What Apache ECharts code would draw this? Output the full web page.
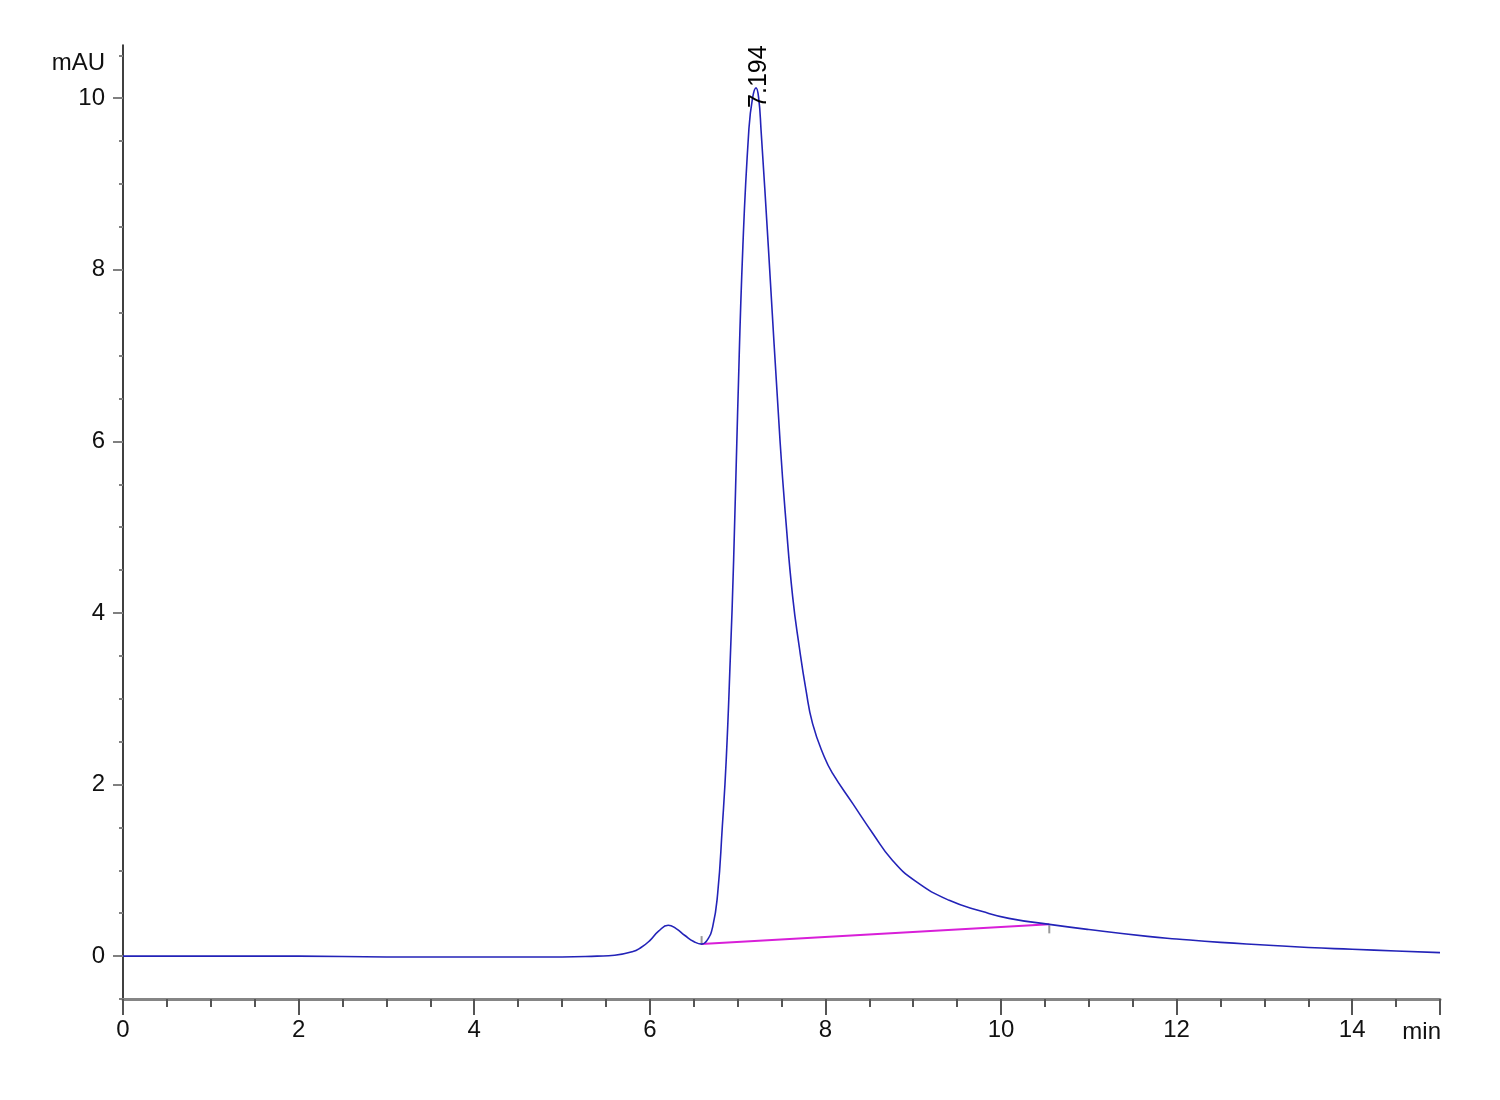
<!DOCTYPE html>
<html>
<head>
<meta charset="utf-8">
<script src="https://cdn.jsdelivr.net/npm/echarts@6/dist/echarts.min.js"></script>
<style>
html,body{margin:0;padding:0;background:#fff;}
#chart{width:1500px;height:1100px;}
</style>
</head>
<body>
<div id="chart"></div>
<script>
// Retention time (min) and absorbance (mAU)
var timeMin = [0, 1, 2, 3, 4, 5, 5.4, 5.6, 5.8, 5.9, 6.0, 6.1, 6.21, 6.3, 6.4, 6.5, 6.59, 6.65, 6.716, 6.773, 6.826, 6.87, 6.916, 6.955, 7.0, 7.06, 7.128, 7.17, 7.21, 7.24, 7.267, 7.35, 7.483, 7.552, 7.627, 7.703, 7.779, 7.854, 7.988, 8.082, 8.31, 8.54, 8.76, 9.03, 9.41, 9.79, 10.09, 10.55, 11.0, 11.67, 12.0, 12.5, 13.0, 13.5, 14.0, 14.5, 15.0];
var signalMAU = [0, 0, 0, -0.01, -0.01, -0.01, 0, 0.01, 0.05, 0.1, 0.18, 0.29, 0.36, 0.32, 0.24, 0.17, 0.14, 0.18, 0.34, 0.73, 1.51, 2.28, 3.45, 4.62, 6.33, 8.27, 9.63, 10.0, 10.12, 10.0, 9.63, 8.27, 6.01, 5.05, 4.19, 3.6, 3.1, 2.71, 2.32, 2.13, 1.78, 1.43, 1.12, 0.87, 0.65, 0.52, 0.44, 0.37, 0.31, 0.23, 0.2, 0.16, 0.13, 0.1, 0.08, 0.06, 0.04];
// Integration baseline (start and end points)
var baselineTime = [6.59, 10.55];
var baselineMAU = [0.14, 0.37];
// Peak annotation
var peakRT = 7.194;
var peakLabel = '7.194';
// Axis ticks
var xMajorTicks = [0, 2, 4, 6, 8, 10, 12, 14];
var yMajorTicks = [0, 2, 4, 6, 8, 10];
var yMinorTicks = [-0.5, 0, 0.5, 1, 1.5, 2, 2.5, 3, 3.5, 4, 4.5, 5, 5.5, 6, 6.5, 7, 7.5, 8, 8.5, 9, 9.5, 10, 10.5];
var xUnit = 'min';
var yUnit = 'mAU';

var FONT = '"Liberation Sans", Arial, sans-serif';

var signalData = timeMin.map(function (t, i) { return [t, signalMAU[i]]; });
var baselineData = baselineTime.map(function (t, i) { return [t, baselineMAU[i]]; });
var peakValue = Math.max.apply(null, signalMAU);

var chart = echarts.init(document.getElementById('chart'), null, {renderer: 'canvas'});
var option = {
  backgroundColor: '#ffffff',
  animation: false,
  grid: {left: 123, right: 60, top: 45, bottom: 101, containLabel: false, outerBoundsMode: 'none'},
  xAxis: [{
    type: 'value', min: 0, max: 15, interval: 2,
    axisLine: {show: true, onZero: false, lineStyle: {color: '#858585', width: 3}},
    axisTick: {show: true, length: 16, lineStyle: {color: '#555', width: 2}},
    minorTick: {show: true, splitNumber: 4, length: 8, lineStyle: {color: '#555', width: 2}},
    splitLine: {show: false},
    axisLabel: {show: true, margin: 19, fontSize: 24, fontFamily: FONT, color: '#111',
      customValues: xMajorTicks}
  }],
  yAxis: [{
    type: 'value', min: -0.5, max: 10.62,
    axisLine: {show: true, onZero: false, lineStyle: {color: '#000', width: 1.5}},
    axisTick: {show: true, length: 10, lineStyle: {color: '#808080', width: 2}, customValues: yMajorTicks},
    splitLine: {show: false},
    axisLabel: {show: true, margin: 18, fontSize: 24, fontFamily: FONT, color: '#111',
      customValues: yMajorTicks}
  }, {
    type: 'value', min: -0.5, max: 10.62, position: 'left',
    axisLine: {show: false},
    axisTick: {show: true, length: 4, lineStyle: {color: '#808080', width: 2}, customValues: yMinorTicks},
    splitLine: {show: false},
    axisLabel: {show: false}
  }],
  series: [{
    name: 'signal', type: 'line', data: signalData, xAxisIndex: 0, yAxisIndex: 0,
    showSymbol: false, symbol: 'none', smooth: 0.5,
    lineStyle: {color: '#2323b8', width: 1.6},
    z: 3,
    markPoint: {
      symbol: 'circle', symbolSize: 0,
      data: [{coord: [peakRT, peakValue]}],
      label: {show: true, formatter: peakLabel, position: 'inside', rotate: 90,
        align: 'left', verticalAlign: 'middle', offset: [-20, 4],
        fontSize: 25, fontFamily: FONT, color: '#000'}
    }
  }, {
    name: 'baseline', type: 'line', data: baselineData, xAxisIndex: 0, yAxisIndex: 0,
    showSymbol: false, symbol: 'none',
    lineStyle: {color: '#d81fd8', width: 2},
    z: 2
  }, {
    name: 'marks', type: 'scatter', xAxisIndex: 0, yAxisIndex: 0,
    symbol: 'rect', symbolSize: [2, 8],
    itemStyle: {color: '#808080'},
    data: [
      {value: baselineData[0], symbolOffset: [0, -4]},
      {value: baselineData[1], symbolOffset: [0, 5]}
    ],
    z: 1
  }],
  graphic: [{
    type: 'text', right: 1500 - 105, top: 51,
    style: {text: yUnit, fontSize: 24, fontFamily: FONT, fill: '#111'}
  }, {
    type: 'text', right: 1500 - 1441, top: 1020,
    style: {text: xUnit, fontSize: 24, fontFamily: FONT, fill: '#111'}
  }]
};
chart.setOption(option);
</script>
</body>
</html>
